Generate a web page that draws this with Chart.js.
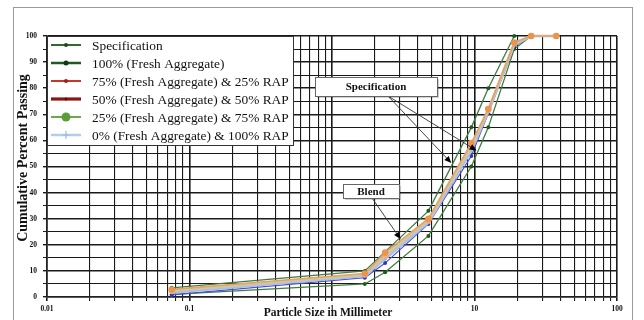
<!DOCTYPE html>
<html><head><meta charset="utf-8">
<script src="https://cdn.jsdelivr.net/npm/chart.js@4.4.1/dist/chart.umd.min.js"></script>
<style>html,body{margin:0;padding:0;background:#fff}#wrap{width:644px;height:320px;position:relative}</style>
</head><body><div id="wrap"><canvas id="c" width="644" height="320"></canvas></div>
<script>
// ---------- data ----------
const blendSizes      = [0.075, 1.7, 2.36, 4.75, 9.5, 12.5, 19, 25, 37.5];
const specUpperSizes  = [0.075, 1.7, 4.75, 9.5, 12.5, 19];
const specUpper       = [3.5, 10, 33, 65, 80, 100];
const specLowerSizes  = [0.075, 1.7, 2.36, 4.75, 9.5, 12.5, 19, 25];
const specLower       = [1, 5, 9.5, 23.4, 50, 65, 95, 100];
const fresh100        = [0.8, 7.4, 13, 28, 54, 70.4, 96, 100, 100];
const fresh75rap25    = [2.9, 9.0, 17, 30, 59, 72, 97.5, 100, 100];
const fresh50rap50    = [2.2, 8.4, 15.5, 29, 57, 71.5, 97, 100, 100];
const fresh25rap75    = [2.5, 8.7, 16, 29.5, 58, 72, 97.3, 100, 100];
const fresh0rap100    = [1.6, 8.0, 14.5, 28.5, 56, 71, 96.5, 100, 100];
const seriesNames = [
  'Specification',
  '100% (Fresh Aggregate)',
  '75% (Fresh Aggregate) & 25% RAP',
  '50% (Fresh Aggregate) & 50% RAP',
  '25% (Fresh Aggregate) & 75% RAP',
  '0% (Fresh Aggregate) & 100% RAP'
];
const xTickLabels = [0.01, 0.1, 1, 10, 100];
const yTickLabels = [0, 10, 20, 30, 40, 50, 60, 70, 80, 90, 100];
const xAxisTitle = 'Particle Size in Millimeter';
const yAxisTitle = 'Cumulative Percent Passing';
const specNote = 'Specification';
const blendNote = 'Blend';
// annotation arrow targets (data coordinates)
const specTargets = [[6.8, 51.6], [10.2, 56.3]];
const blendTarget = [3.0, 22.5];

// ---------- helpers ----------
const pts = (xs, ys) => xs.map((x, i) => ({x: x, y: ys[i]}));
const SERIF = '"Liberation Serif", "Times New Roman", serif';
const gridVals = [];
for (let d = -2; d <= 1; d++) for (let k = 1; k <= 9; k++) gridVals.push(+(k * Math.pow(10, d)).toPrecision(3));
gridVals.push(100);
const isMajorX = v => xTickLabels.some(t => Math.abs(t - v) / t < 1e-6);

const legendStyles = [
  {color:'#2f6b2f', width:2,   dot:'#1c4a1c', r:2,   type:'circle'},
  {color:'#1f5a25', width:2.5, dot:'#0f3a12', r:2.5, type:'circle'},
  {color:'#c0392b', width:2,   dot:'#9a1f1f', r:2,   type:'circle'},
  {color:'#8b1414', width:3.2, dot:'#6a0a0a', r:1.5, type:'circle'},
  {color:'#6aaa4a', width:2,   dot:'#5a9e3a', r:4.5, type:'circle'},
  {color:'#b4cdef', width:2.5, dot:'#9cbbe6', r:4,   type:'cross'}
];

const overlay = {
  id: 'overlay',
  afterDraw(chart) {
    const ctx = chart.ctx, ca = chart.chartArea;
    const xs = chart.scales.x, ys = chart.scales.y;
    ctx.save();
    // legend box
    const lx = ca.left, ly = ca.top, lw = 246, lh = 109;
    ctx.fillStyle = '#fff';
    ctx.fillRect(lx, ly, lw, lh);
    ctx.strokeStyle = '#333'; ctx.lineWidth = 1;
    ctx.strokeRect(lx + 0.5, ly + 0.5, lw, lh);
    ctx.font = '13.4px ' + SERIF;
    ctx.textBaseline = 'middle';
    seriesNames.forEach((name, i) => {
      const st = legendStyles[i];
      const y = ly + 9 + i * 18;
      ctx.strokeStyle = st.color; ctx.lineWidth = st.width;
      ctx.beginPath(); ctx.moveTo(lx + 4, y); ctx.lineTo(lx + 34, y); ctx.stroke();
      if (st.type === 'cross') {
        ctx.strokeStyle = st.dot; ctx.lineWidth = 1.2;
        ctx.beginPath(); ctx.moveTo(lx + 19 - st.r, y); ctx.lineTo(lx + 19 + st.r, y);
        ctx.moveTo(lx + 19, y - st.r); ctx.lineTo(lx + 19, y + st.r); ctx.stroke();
      } else {
        ctx.fillStyle = st.dot;
        ctx.beginPath(); ctx.arc(lx + 19, y, st.r, 0, Math.PI * 2); ctx.fill();
      }
      ctx.fillStyle = '#111';
      ctx.textAlign = 'left';
      ctx.fillText(name, lx + 45, y + 1);
    });
    // annotation boxes
    const drawBox = (x, y, w, h, text) => {
      ctx.fillStyle = 'rgba(0,0,0,0.18)';
      ctx.fillRect(x + 2, y + 2, w, h);
      ctx.fillStyle = '#fff'; ctx.fillRect(x, y, w, h);
      ctx.strokeStyle = '#666'; ctx.lineWidth = 1;
      ctx.strokeRect(x + 0.5, y + 0.5, w, h);
      ctx.fillStyle = '#111'; ctx.font = 'bold 11px ' + SERIF;
      ctx.textAlign = 'center'; ctx.textBaseline = 'middle';
      ctx.fillText(text, x + w / 2, y + h / 2 + 1);
    };
    const arrow = (x0, y0, x1, y1) => {
      ctx.strokeStyle = '#333'; ctx.lineWidth = 0.9;
      ctx.beginPath(); ctx.moveTo(x0, y0); ctx.lineTo(x1, y1); ctx.stroke();
      const a = Math.atan2(y1 - y0, x1 - x0), L = 6, W = 3;
      ctx.fillStyle = '#000';
      ctx.beginPath(); ctx.moveTo(x1 + Math.cos(a) * 1, y1 + Math.sin(a) * 1);
      ctx.lineTo(x1 - L * Math.cos(a) + W * Math.sin(a), y1 - L * Math.sin(a) - W * Math.cos(a));
      ctx.lineTo(x1 - L * Math.cos(a) - W * Math.sin(a), y1 - L * Math.sin(a) + W * Math.cos(a));
      ctx.closePath(); ctx.fill();
    };
    specTargets.forEach(t => arrow(388, 96, xs.getPixelForValue(t[0]), ys.getPixelForValue(t[1])));
    arrow(372, 198, xs.getPixelForValue(blendTarget[0]), ys.getPixelForValue(blendTarget[1]));
    drawBox(315, 77, 122, 19, specNote);
    drawBox(343, 184, 56, 14, blendNote);
    // axis titles
    ctx.fillStyle = '#111';
    ctx.font = 'bold 11.5px ' + SERIF;
    ctx.textAlign = 'center'; ctx.textBaseline = 'middle';
    ctx.fillText(xAxisTitle, 328, 313);
    ctx.save();
    ctx.translate(23, 158); ctx.rotate(-Math.PI / 2);
    ctx.font = 'bold 14px ' + SERIF;
    ctx.fillText(yAxisTitle, 0, 0);
    ctx.restore();
    // outer frame
    ctx.strokeStyle = '#9a9a9a'; ctx.lineWidth = 1;
    ctx.strokeRect(13.5, 7.5, 619, 330);
    ctx.restore();
  }
};

const lineDs = (label, data, color, width, ptColor, r, order) => ({
  label, data, borderColor: color, borderWidth: width, backgroundColor: ptColor,
  pointBackgroundColor: ptColor, pointBorderColor: ptColor, pointRadius: r, pointBorderWidth: 0,
  fill: false, tension: 0, spanGaps: false, clip: false, order
});

new Chart(document.getElementById('c'), {
  type: 'line',
  data: {
    datasets: [
      lineDs(seriesNames[0], pts(specUpperSizes, specUpper), '#3f7c3f', 1.3, '#1f5a1f', 2, 7),
      lineDs(seriesNames[0], pts(specLowerSizes, specLower), '#3f7c3f', 1.3, '#1f5a1f', 2, 6),
      lineDs(seriesNames[1], pts(blendSizes, fresh100), '#4b4fd0', 1.2, '#3434c0', 2, 5),
      lineDs(seriesNames[2], pts(blendSizes, fresh75rap25), '#e9a066', 1.7, '#ea9450', 3.3, 1),
      lineDs(seriesNames[3], pts(blendSizes, fresh50rap50), '#c4c8b8', 2.2, '#e8b488', 2.5, 3),
      lineDs(seriesNames[4], pts(blendSizes, fresh25rap75), '#c9cba2', 2.0, '#eab27e', 3, 2),
      lineDs(seriesNames[5], pts(blendSizes, fresh0rap100), '#aebde6', 2.4, '#9fb3e3', 1.5, 4)
    ]
  },
  options: {
    responsive: false, animation: false, devicePixelRatio: 1,
    layout: {padding: {left: 0, right: 27, top: 36, bottom: 0}},
    plugins: {legend: {display: false}, tooltip: {enabled: false}},
    scales: {
      x: {
        type: 'logarithmic', min: 0.01, max: 100, position: 'bottom',
        afterBuildTicks: s => { s.ticks = gridVals.map(v => ({value: v})); },
        afterFit: s => { s.height = 23; },
        ticks: {
          autoSkip: false, maxRotation: 0, minRotation: 0, padding: 4, color: '#111',
          font: {family: SERIF, size: 7.5, weight: 'bold'},
          callback: v => isMajorX(v) ? String(xTickLabels.find(t => Math.abs(t - v) / t < 1e-6)) : ''
        },
        grid: {
          color: '#1a1a1a', tickLength: 4,
          lineWidth: c => (c.tick && isMajorX(c.tick.value)) ? 1.6 : 1.1
        },
        border: {color: '#222', width: 1.5}
      },
      y: {
        type: 'linear', min: 0, max: 100,
        afterFit: s => { s.width = 47; },
        ticks: {
          stepSize: 5, padding: 6, color: '#111',
          font: {family: SERIF, size: 7.5, weight: 'bold'},
          callback: v => yTickLabels.includes(v) ? String(v) : ''
        },
        grid: {
          color: '#1a1a1a', tickLength: 4,
          lineWidth: c => (c.tick && yTickLabels.includes(c.tick.value)) ? 1.4 : 1
        },
        border: {color: '#222', width: 1.5}
      }
    }
  },
  plugins: [overlay]
});
</script></body></html>
